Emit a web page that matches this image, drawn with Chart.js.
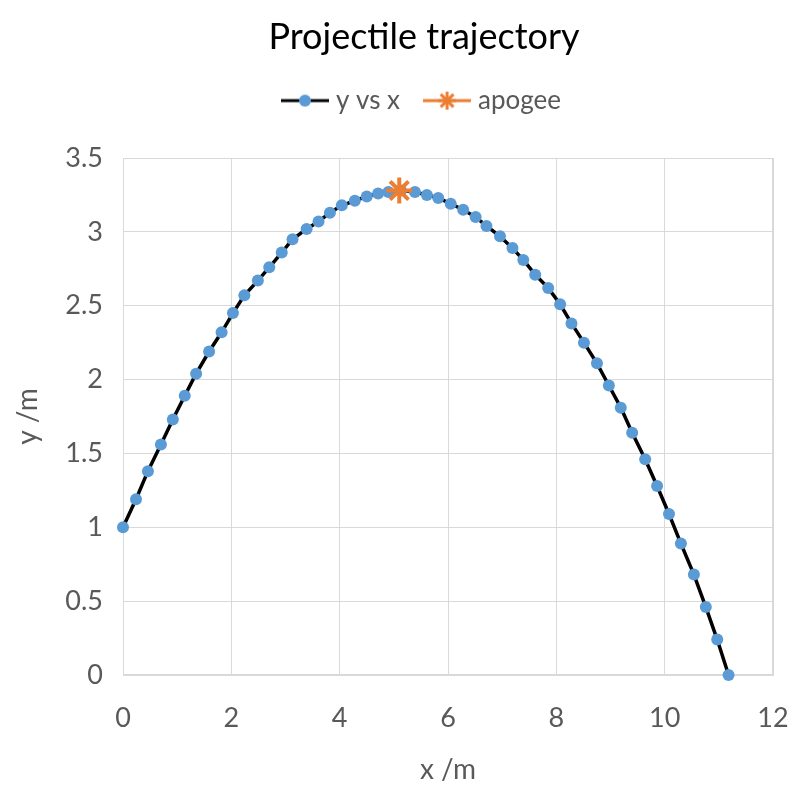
<!DOCTYPE html>
<html><head><meta charset="utf-8">
<script src="https://cdn.jsdelivr.net/npm/chart.js@4/dist/chart.umd.min.js"></script>
<style>html,body{margin:0;padding:0;background:#fff}#wrap{width:798px;height:798px}</style>
</head><body><div id="wrap"><canvas id="c" width="798" height="798"></canvas></div>
<script>
const xValues = [0.00,0.24,0.46,0.70,0.92,1.14,1.35,1.59,1.82,2.03,2.24,2.49,2.70,2.93,3.13,3.39,3.61,3.82,4.04,4.28,4.50,4.71,4.90,5.13,5.39,5.61,5.82,6.05,6.28,6.51,6.71,6.96,7.19,7.39,7.61,7.85,8.07,8.28,8.51,8.75,8.97,9.19,9.40,9.64,9.86,10.08,10.30,10.54,10.76,10.97,11.18];
const yValues = [1.00,1.19,1.38,1.56,1.73,1.89,2.04,2.19,2.32,2.45,2.57,2.67,2.76,2.86,2.95,3.02,3.07,3.13,3.18,3.21,3.24,3.26,3.27,3.28,3.27,3.25,3.23,3.19,3.15,3.10,3.04,2.97,2.89,2.81,2.71,2.62,2.51,2.38,2.25,2.11,1.96,1.81,1.64,1.46,1.28,1.09,0.89,0.68,0.46,0.24,0.00];
const apogeeX = [5.10];
const apogeeY = [3.28];
const seriesNames = ['y vs x', 'apogee'];
const xTickValues = [0, 2, 4, 6, 8, 10, 12];
const yTickValues = [0, 0.5, 1, 1.5, 2, 2.5, 3, 3.5];

const BLUE = '#5B9BD5', ORANGE = '#ED7D31', GRID = '#d9d9d9', TXT = '#595959';
const FONT = 'Lato, "Open Sans", sans-serif';

function makeIcon(kind) {
  const c = document.createElement('canvas');
  c.width = 48; c.height = 26;
  const g = c.getContext('2d');
  g.lineWidth = 3;
  g.strokeStyle = kind === 'line' ? '#000' : ORANGE;
  g.beginPath(); g.moveTo(0, 13); g.lineTo(48, 13); g.stroke();
  if (kind === 'line') {
    g.fillStyle = BLUE; g.beginPath(); g.arc(24, 13, 6, 0, Math.PI * 2); g.fill();
  } else {
    g.strokeStyle = ORANGE; g.lineWidth = 3;
    const r = 9;
    for (let k = 0; k < 4; k++) {
      const a = k * Math.PI / 4;
      g.beginPath();
      g.moveTo(24 + r * Math.cos(a), 13 + r * Math.sin(a));
      g.lineTo(24 - r * Math.cos(a), 13 - r * Math.sin(a));
      g.stroke();
    }
  }
  return c;
}
const icons = [makeIcon('line'), makeIcon('star')];

const trajectory = xValues.map((x, i) => ({x: x, y: yValues[i]}));
const apogee = apogeeX.map((x, i) => ({x: x, y: apogeeY[i]}));

new Chart(document.getElementById('c'), {
  type: 'scatter',
  data: {
    datasets: [
      {
        label: seriesNames[0], data: trajectory, showLine: true, order: 1, clip: false,
        borderColor: '#000', borderWidth: 3.5, tension: 0,
        pointBackgroundColor: BLUE, pointBorderColor: BLUE, pointBorderWidth: 0,
        pointRadius: 6, pointHoverRadius: 6
      },
      {
        label: seriesNames[1], data: apogee, order: 0, showLine: false, clip: false,
        pointStyle: 'star', pointRadius: 13, pointHoverRadius: 13,
        borderColor: ORANGE, backgroundColor: ORANGE, pointBorderWidth: 4
      }
    ]
  },
  options: {
    responsive: false, animation: false, devicePixelRatio: 1,
    layout: {padding: {left: 62, right: 12, top: 0, bottom: 10}},
    plugins: {
      tooltip: {enabled: false},
      title: {display: true, text: 'Projectile trajectory', color: '#000',
        font: {family: FONT, size: 36, weight: 'normal'}, padding: {top: 15.4, bottom: 0}},
      subtitle: {display: true, text: '', weight: 500, font: {size: 10}, padding: {top: 8, bottom: 14.4}},
      legend: {
        display: true, position: 'top',
        labels: {
          usePointStyle: true, pointStyleWidth: 36, padding: 29,
          color: TXT, font: {family: FONT, size: 26},
          generateLabels: (chart) => chart.data.datasets.map((ds, i) => ({
            text: ds.label, pointStyle: icons[i], datasetIndex: i,
            fillStyle: 'transparent', strokeStyle: 'transparent', lineWidth: 0,
            fontColor: TXT, hidden: false
          })),
          sort: (a, b) => a.datasetIndex - b.datasetIndex
        }
      }
    },
    scales: {
      x: {
        type: 'linear', min: 0, max: 12,
        afterBuildTicks: (s) => { s.ticks = xTickValues.map(v => ({value: v})); },
        afterFit: (s) => { s.height = 113; s.paddingLeft = 0; s.paddingRight = 25; },
        grid: {color: GRID, lineWidth: 1, drawTicks: false},
        border: {color: GRID, width: 1},
        ticks: {color: TXT, font: {family: FONT, size: 27}, padding: 27, maxRotation: 0, callback: (v) => String(v)},
        title: {display: true, text: 'x /m', color: TXT, font: {family: FONT, size: 28}, padding: {top: 0, bottom: 1}}
      },
      y: {
        type: 'linear', min: 0, max: 3.5,
        afterBuildTicks: (s) => { s.ticks = yTickValues.map(v => ({value: v})); },
        afterFit: (s) => { s.width = 61; },
        grid: {color: GRID, lineWidth: 1, drawTicks: false},
        border: {color: GRID, width: 1},
        ticks: {color: TXT, font: {family: FONT, size: 27}, padding: 20, callback: (v) => String(v)},
        title: {display: true, text: 'y /m', color: TXT, font: {family: FONT, size: 28}, padding: {top: -50.8, bottom: 0}}
      }
    }
  },
  plugins: [{
    id: 'outerBorder',
    beforeDatasetsDraw(chart) {
      const {ctx, chartArea: a} = chart;
      ctx.save(); ctx.strokeStyle = GRID; ctx.lineWidth = 1;
      ctx.strokeRect(a.left + 0.5, a.top + 0.5, a.right - a.left - 1, a.bottom - a.top - 1);
      ctx.restore();
    }
  }]
});
</script></body></html>
